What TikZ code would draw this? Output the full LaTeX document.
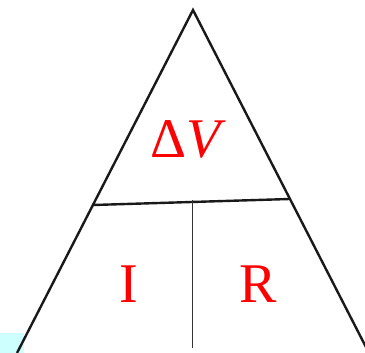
\documentclass[tikz,border=0pt]{standalone}
\usepackage{fontspec}
\setmainfont{Liberation Serif}
\definecolor{paleaqua}{RGB}{205,255,255}
\begin{document}
\begin{tikzpicture}[x=1pt,y=-1pt,
  edge/.style={draw=black!90,line width=2.4pt},
  divider/.style={draw=black!80,line width=1pt},
  lbl/.style={text=red,font=\fontsize{56}{60}\selectfont,inner sep=0pt,anchor=base}]
\useasboundingbox (0,0) rectangle (365,353);
\clip (0,0) rectangle (365,353);
\fill[paleaqua] (0,333) rectangle (24,353);
\coordinate (apex) at (193,10);
\coordinate (bl) at (17,353);
\coordinate (br) at (369,353);
\coordinate (hl) at (93.4,205);
\coordinate (hr) at (289.6,199);
\coordinate (vt) at (192,200);
\coordinate (vb) at (192,348);
\draw[edge,line join=miter] (bl) -- (apex) -- (br);
\draw[edge] (hl) -- (hr);
\draw[divider] (vt) -- (vb);
\node[lbl] (dv) at (188,158) {Δ\textit{V}};
\node[lbl] (i) at (129,302) {I};
\node[lbl] (r) at (258,302) {R};
\end{tikzpicture}
\end{document}
